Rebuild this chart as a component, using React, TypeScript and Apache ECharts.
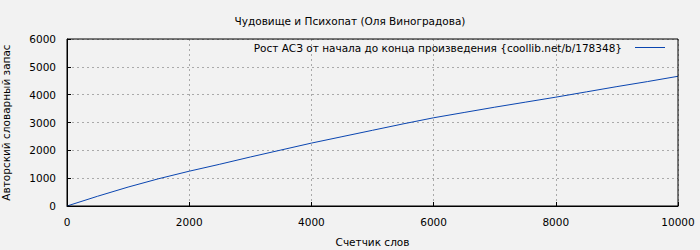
import React, { useEffect, useRef } from "react";
import * as echarts from "echarts";

const words = [0, 500, 1000, 1500, 2000, 2500, 3000, 3500, 4000, 4500, 5000, 5500, 6000, 6500, 7000, 7500, 8000, 8500, 9000, 9500, 10000];
const vocab = [0, 350, 680, 980, 1250, 1500, 1760, 2010, 2260, 2490, 2720, 2950, 3170, 3360, 3550, 3730, 3910, 4100, 4290, 4470, 4660];
const titleText = "Чудовище и Психопат (Оля Виноградова)";
const seriesName = "Рост АСЗ от начала до конца произведения {coollib.net/b/178348}";
const xName = "Счетчик слов";
const yName = "Авторский словарный запас";

export default function App() {
  const ref = useRef<HTMLDivElement>(null);
  useEffect(() => {
    const chart = echarts.init(ref.current!, null, { renderer: "svg" });
    const font = "DejaVu Sans";
    const fs = 10.5;
    chart.setOption({
      animation: false,
      backgroundColor: "#f2f2f2",
      textStyle: { fontFamily: font },
      title: {
        text: titleText,
        left: "center",
        top: 10,
        textStyle: { fontSize: fs, fontWeight: "normal", color: "#000", fontFamily: font },
      },
      legend: {
        data: [seriesName],
        right: 30,
        top: 37,
        align: "right",
        itemWidth: 30,
        itemHeight: 1,
        itemGap: 8,
        icon: "rect",
        textStyle: { fontSize: fs, color: "#000", fontFamily: font, padding: [0, 8, 0, 0] },
      },
      grid: { left: 67, right: 22, top: 39, bottom: 44, outerBoundsMode: "none", containLabel: false },
      xAxis: {
        type: "value",
        min: 0,
        max: 10000,
        interval: 2000,
        name: xName,
        nameLocation: "middle",
        nameGap: 30,
        nameTextStyle: { fontSize: fs, color: "#000", fontFamily: font },
        axisLine: { lineStyle: { color: "#000" } },
        axisTick: { show: true, inside: true, length: 4, lineStyle: { color: "#000" } },
        axisLabel: { fontSize: fs, color: "#000", margin: 10, fontFamily: font, formatter: (v: number) => String(v) },
        splitLine: { show: true, lineStyle: { color: "#aaa", type: [2, 3] } },
      },
      yAxis: {
        type: "value",
        min: 0,
        max: 6000,
        interval: 1000,
        name: yName,
        nameLocation: "middle",
        nameGap: 56,
        nameTextStyle: { fontSize: fs, color: "#000", fontFamily: font },
        axisLine: { show: true, lineStyle: { color: "#000" } },
        axisTick: { show: true, inside: true, length: 4, lineStyle: { color: "#000" } },
        axisLabel: { fontSize: fs, color: "#000", margin: 11, fontFamily: font, formatter: (v: number) => String(v) },
        splitLine: { show: true, lineStyle: { color: "#aaa", type: [2, 3] } },
      },
      series: [
        {
          name: seriesName,
          type: "line",
          data: words.map((w, i) => [w, vocab[i]]),
          showSymbol: false,
          lineStyle: { color: "#0a45b0", width: 1 },
          itemStyle: { color: "#0a45b0" },
        },
      ],
      graphic: [
        {
          type: "rect",
          shape: { x: 67, y: 39, width: 611, height: 167 },
          style: { fill: "none", stroke: "#000", lineWidth: 1 },
          silent: true,
          z: 10,
        },
      ],
    });
    return () => chart.dispose();
  }, []);
  return <div ref={ref} style={{ width: 700, height: 250, position: "absolute", left: 0, top: 0 }} />;
}
